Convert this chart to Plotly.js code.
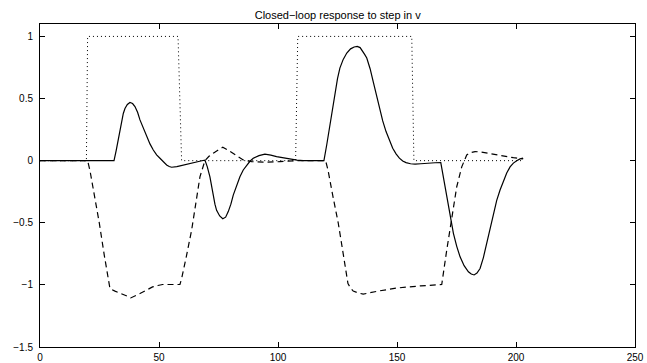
<!DOCTYPE html>
<html>
<head>
<meta charset="utf-8">
<script src="https://cdn.plot.ly/plotly-3.0.1.min.js"></script>
<style>
  html, body { margin: 0; padding: 0; background: #fff; }
  #chart { width: 647px; height: 363px; }
</style>
</head>
<body>
<div id="chart"></div>
<script>
// Reference step input v (dotted)
const refT = [0, 19.5, 20, 58, 59.5, 107.4, 108.3, 156.2, 157.1, 203];
const refV = [0, 0, 1, 1, 0, 0, 1, 1, 0, 0];

// Output response (solid)
const outT = [0, 31.1, 32, 32.9, 33.6, 34.3, 35, 35.7, 36.7, 37.8, 38.9, 39.9, 41, 42, 43.4, 44.8, 46.2, 47.6, 49, 50.4, 51.8, 53.2, 54.3, 55.3, 57.5, 60.2, 63, 65.8, 68, 69.3,
  70.3, 71.4, 72.1, 72.8, 73.5, 74.2, 75.5, 76.8, 78, 79.1, 80.2, 81.2, 82.6, 84, 85.4, 86.8, 88.2, 89.6, 92, 94.5, 97, 99.4, 102, 105, 108, 110.6, 119.3,
  120.5, 121.8, 122.9, 123.9, 125, 126, 127.4, 128.9, 130.5, 132, 133.3, 134.5, 135.5, 136.4, 137.3, 138.7, 140, 141.3, 142.6, 144, 145.4, 146.8, 148.2, 149.6, 151, 152.4, 153.8, 155.7, 157.6, 160, 163.6, 166, 168.4,
  169.3, 170.2, 171.3, 172.3, 173, 173.7, 175.1, 176.5, 178.2, 180, 181.2, 182.4, 183.6, 184.9, 186.3, 187.7, 189.1, 190.5, 191.9, 193.3, 194.7, 196.1, 197.5, 198.9, 200.3, 201.7, 203];
const outY = [0, 0, 0.08, 0.167, 0.25, 0.328, 0.38, 0.42, 0.452, 0.468, 0.46, 0.435, 0.39, 0.328, 0.26, 0.194, 0.135, 0.086, 0.047, 0.019, -0.01, -0.035, -0.047, -0.053, -0.048, -0.035, -0.02, -0.008, -0.001, 0.004,
  -0.05, -0.13, -0.21, -0.29, -0.35, -0.4, -0.445, -0.468, -0.455, -0.41, -0.35, -0.277, -0.2, -0.13, -0.075, -0.035, -0.005, 0.019, 0.04, 0.052, 0.045, 0.032, 0.022, 0.011, 0.004, 0, 0,
  0.13, 0.29, 0.43, 0.556, 0.66, 0.745, 0.815, 0.866, 0.9, 0.915, 0.92, 0.91, 0.885, 0.855, 0.826, 0.74, 0.637, 0.53, 0.42, 0.32, 0.234, 0.16, 0.1, 0.055, 0.02, -0.003, -0.016, -0.025, -0.028, -0.025, -0.018, -0.017, -0.016,
  -0.11, -0.236, -0.35, -0.45, -0.52, -0.585, -0.69, -0.774, -0.845, -0.895, -0.913, -0.92, -0.905, -0.868, -0.78, -0.666, -0.545, -0.424, -0.32, -0.236, -0.16, -0.1, -0.05, -0.02, 0, 0.014, 0.02];

// Control signal (dashed)
const ctlT = [0, 20, 21, 23, 24.9, 27, 29.4, 31.5, 33.6, 36, 38.1, 40, 42, 44.5, 47.3, 49.5, 51.5, 58.8, 59.5, 61.5, 63.7, 65.5, 67.2, 69.3, 71, 72.8, 74.8, 76.8, 79, 81.2, 83.3, 85.4, 88.9, 95.2, 100.8, 107.8, 120,
  121, 123, 125.3, 127.4, 129.4, 130.5, 131.6, 133.7, 135.8, 142, 150, 160, 168.8, 170.9, 173, 175.1, 177.2, 179.3, 181, 182.8, 185, 187.7, 193.3, 198.9, 203];
const ctlY = [0, 0, -0.08, -0.29, -0.5, -0.76, -1.03, -1.05, -1.064, -1.085, -1.105, -1.09, -1.07, -1.045, -1.016, -1.005, -0.997, -0.997, -0.95, -0.77, -0.56, -0.34, -0.13, 0, 0.035, 0.06, 0.085, 0.108, 0.085, 0.06, 0.032, 0.006, -0.008, -0.013, -0.008, 0, 0,
  -0.075, -0.28, -0.5, -0.75, -0.99, -1.025, -1.05, -1.065, -1.075, -1.05, -1.025, -1.008, -0.997, -0.72, -0.45, -0.21, -0.05, 0.046, 0.065, 0.073, 0.07, 0.06, 0.04, 0.024, 0.015];

const xTicks = [0, 50, 100, 150, 200, 250];
const yTicks = [-1.5, -1, -0.5, 0, 0.5, 1];
const titleText = 'Closed\u2212loop response to step in v';

const traces = [
  { x: refT, y: refV, mode: 'lines', line: { color: '#000', width: 1, dash: '1px,3px' }, hoverinfo: 'skip' },
  { x: ctlT, y: ctlY, mode: 'lines', line: { color: '#000', width: 1.2, dash: '6px,4px' }, hoverinfo: 'skip' },
  { x: outT, y: outY, mode: 'lines', line: { color: '#000', width: 1.2 }, hoverinfo: 'skip' }
];

const axisCommon = {
  showgrid: false, zeroline: false, showline: true, linecolor: '#000', linewidth: 1,
  mirror: 'ticks', ticks: 'inside', ticklen: 5, tickwidth: 1, tickcolor: '#000',
  ticklabeloverflow: 'allow',
  tickfont: { family: 'Liberation Sans, Arial, sans-serif', size: 10, color: '#000' }
};

const layout = {
  width: 647, height: 363,
  margin: { l: 40, r: 12, t: 24, b: 16 },
  paper_bgcolor: '#fff', plot_bgcolor: '#fff',
  showlegend: false,
  title: { text: titleText, x: 0.522, xanchor: 'center', y: 0.958, yanchor: 'middle',
    font: { family: 'Liberation Sans, Arial, sans-serif', size: 11, color: '#000' } },
  xaxis: Object.assign({}, axisCommon, { range: [0, 250], tickvals: xTicks, ticktext: xTicks.map(String), ticklabelstandoff: 1 }),
  yaxis: Object.assign({}, axisCommon, { range: [-1.5, 1.1], tickvals: yTicks, ticktext: yTicks.map(v => String(v).replace('-', '\u2212')), ticklabelstandoff: 4 })
};

Plotly.newPlot('chart', traces, layout, { staticPlot: true, displayModeBar: false });
</script>
</body>
</html>
